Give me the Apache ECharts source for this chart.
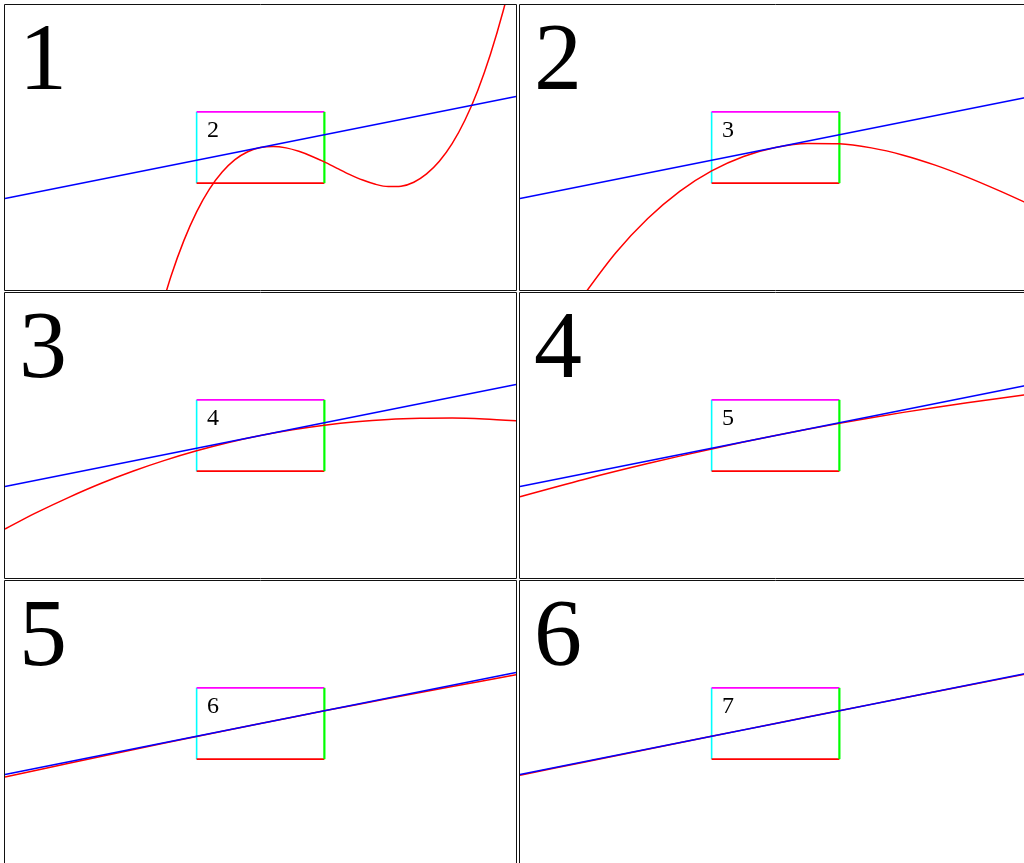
<!DOCTYPE html>
<html>
<head>
<meta charset="utf-8">
<script src="https://cdn.jsdelivr.net/npm/echarts@6/dist/echarts.min.js"></script>
<style>
  html, body { margin: 0; padding: 0; background: #fff; overflow: hidden; }
  #chart { width: 1040px; height: 880px; }
</style>
</head>
<body>
<div id="chart"></div>
<script>
// panel numbers and the number written inside each zoom box
const panelLabels = ["1", "2", "3", "4", "5", "6"];
const boxLabels = ["2", "3", "4", "5", "6", "7"];

// tangent line (same in every panel, the zoom keeps its slope)
const tangentX = [-2, 2];
const tangentY = [-0.4, 0.4];

// zoom box: a quarter of the panel, around the tangent point
const boxX = [-0.5, 0.5];
const boxY = [-0.2789, 0.2789];

// red curve
const curveX1 = [-0.8, -0.7, -0.6, -0.5, -0.4, -0.3, -0.2, -0.1, 0, 0.1, 0.2, 0.3, 0.4, 0.5, 0.6, 0.7, 0.8, 0.9, 1.0, 1.1, 1.2, 1.3, 1.4, 1.5, 1.6, 1.7, 1.8, 1.9, 2.0];
const curveY1 = [-1.34, -1.006, -0.729, -0.504, -0.326, -0.192, -0.095, -0.033, 0, 0.0085, -0.003, -0.03, -0.068, -0.113, -0.163, -0.212, -0.255, -0.288, -0.306, -0.303, -0.272, -0.207, -0.108, 0.03, 0.213, 0.445, 0.73, 1.07, 1.47];

const curveX2 = [-1.6, -1.5, -1.25, -1.0, -0.75, -0.5, -0.25, 0, 0.25, 0.5, 0.75, 1.0, 1.25, 1.5, 1.75, 2.0];
const curveY2 = [-1.304, -1.154, -0.824, -0.556, -0.343, -0.183, -0.07, 0, 0.0315, 0.029, -0.003, -0.06, -0.138, -0.232, -0.338, -0.451];

const curveX3 = [-2, -1.75, -1.5, -1.25, -1.0, -0.75, -0.5, -0.25, 0, 0.25, 0.5, 0.75, 1.0, 1.25, 1.5, 1.75, 2.0];
const curveY3 = [-0.732, -0.602, -0.484, -0.376, -0.28, -0.195, -0.12, -0.055, 0, 0.045, 0.081, 0.108, 0.126, 0.135, 0.137, 0.13, 0.115];

const curveX4 = [-2, -1.5, -1.0, -0.5, 0, 0.5, 1.0, 1.5, 2.0];
const curveY4 = [-0.479, -0.344, -0.22, -0.105, 0, 0.095, 0.181, 0.257, 0.324];

const curveX5 = [-2, -1.5, -1.0, -0.5, 0, 0.5, 1.0, 1.5, 2.0];
const curveY5 = [-0.419, -0.311, -0.205, -0.101, 0, 0.099, 0.195, 0.289, 0.381];

const curveX6 = [-2, -1.5, -1.0, -0.5, 0, 0.5, 1.0, 1.5, 2.0];
const curveY6 = [-0.405, -0.303, -0.201, -0.1, 0, 0.1, 0.199, 0.297, 0.395];

const curvesX = [curveX1, curveX2, curveX3, curveX4, curveX5, curveX6];
const curvesY = [curveY1, curveY2, curveY3, curveY4, curveY5, curveY6];

function pairs(xs, ys) {
  return xs.map(function (x, i) { return [x, ys[i]]; });
}

function lineSeries(p, data, color, width, smooth) {
  return {
    type: "line",
    xAxisIndex: p,
    yAxisIndex: p,
    data: data,
    smooth: smooth || false,
    symbol: "none",
    silent: true,
    lineStyle: { color: color, width: width },
  };
}

const panelW = 511;
const panelH = 285;
const grids = [];
const xAxes = [];
const yAxes = [];
const series = [];
const graphics = [];

for (let p = 0; p < 6; p++) {
  const col = p % 2;
  const row = Math.floor(p / 2);
  const left = 5 + 515 * col;
  const top = 5 + 288 * row;

  grids.push({ left: left, top: top, width: panelW, height: panelH, show: false });
  xAxes.push({ type: "value", gridIndex: p, min: -2, max: 2, show: false });
  yAxes.push({ type: "value", gridIndex: p, min: -1.1155, max: 1.1155, show: false });

  // box edges
  series.push(lineSeries(p, [[boxX[0], boxY[0]], [boxX[0], boxY[1]]], "#00ffff", 1.6));
  series.push(lineSeries(p, [[boxX[0], boxY[1]], [boxX[1], boxY[1]]], "#ff00ff", 1.6));
  series.push(lineSeries(p, [[boxX[0], boxY[0]], [boxX[1], boxY[0]]], "#ff0000", 1.6));
  series.push(lineSeries(p, [[boxX[1], boxY[0]], [boxX[1], boxY[1]]], "#00ff00", 2.2));
  // curve and its tangent
  series.push(lineSeries(p, pairs(curvesX[p], curvesY[p]), "#ff0000", 1.5, 0.3));
  series.push(lineSeries(p, pairs(tangentX, tangentY), "#0000ff", 1.5));

  graphics.push({
    type: "rect",
    z: 100,
    shape: { x: left - 0.5, y: top - 0.5, width: panelW + 1, height: panelH + 1 },
    style: { fill: null, stroke: "#111", lineWidth: 1 },
  });
  graphics.push({
    type: "text",
    left: left + 14,
    top: top + 11,
    style: { text: panelLabels[p], font: "96px 'Liberation Serif', serif", fill: "#000" },
  });
  graphics.push({
    type: "text",
    left: left + 192 + 10,
    top: top + 107 + 7,
    style: { text: boxLabels[p], font: "24px 'Liberation Serif', serif", fill: "#000" },
  });
}

const chart = echarts.init(document.getElementById("chart"));
chart.setOption({
  animation: false,
  backgroundColor: "#fff",
  grid: grids,
  xAxis: xAxes,
  yAxis: yAxes,
  series: series,
  graphic: graphics,
});
</script>
</body>
</html>
